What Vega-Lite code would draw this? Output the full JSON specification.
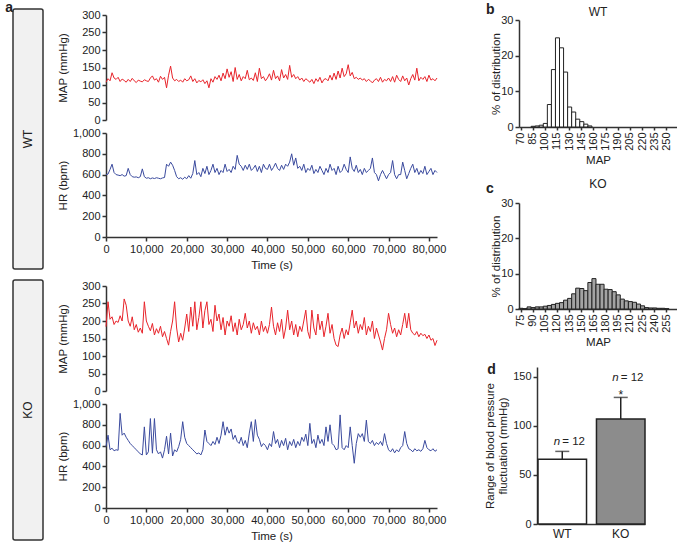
{
"$schema": "https://vega.github.io/schema/vega-lite/v6.json",
"padding": {"left": 5, "top": 0, "right": 0, "bottom": 0},
"background": "white",
"config": {
  "font": "Liberation Sans",
  "view": {"stroke": null},
  "axis": {"domainColor": "#333", "domainWidth": 1.5, "tickColor": "#333", "tickWidth": 1.5, "tickSize": 4, "labelFontSize": 11, "labelColor": "#222", "titleFontSize": 11.5, "titleFontWeight": "normal", "titleColor": "#222", "grid": false, "labelPadding": 2, "titlePadding": 4},
  "title": {"fontSize": 12, "fontWeight": "normal", "color": "#222"}
},
"datasets": {
"wt": [
{"t":0,"map":108,"hr":600},{"t":500,"map":118,"hr":605},{"t":1000,"map":112,"hr":650},{"t":1500,"map":135,"hr":700},{"t":2000,"map":120,"hr":620},{"t":2500,"map":116,"hr":600},{"t":3000,"map":122,"hr":595},{"t":3500,"map":110,"hr":590},{"t":4000,"map":117,"hr":600},{"t":4500,"map":113,"hr":585},
{"t":5000,"map":108,"hr":590},{"t":5500,"map":116,"hr":660},{"t":6000,"map":110,"hr":600},{"t":6500,"map":119,"hr":580},{"t":7000,"map":112,"hr":575},{"t":7500,"map":107,"hr":578},{"t":8000,"map":114,"hr":570},{"t":8500,"map":111,"hr":580},{"t":9000,"map":109,"hr":655},{"t":9500,"map":115,"hr":580},
{"t":10000,"map":112,"hr":565},{"t":10500,"map":110,"hr":570},{"t":11000,"map":120,"hr":560},{"t":11500,"map":126,"hr":568},{"t":12000,"map":114,"hr":562},{"t":12500,"map":118,"hr":570},{"t":13000,"map":108,"hr":565},{"t":13500,"map":125,"hr":560},{"t":14000,"map":116,"hr":568},{"t":14500,"map":122,"hr":572},
{"t":15000,"map":92,"hr":700},{"t":15500,"map":128,"hr":680},{"t":16000,"map":154,"hr":720},{"t":16500,"map":120,"hr":690},{"t":17000,"map":112,"hr":640},{"t":17500,"map":116,"hr":580},{"t":18000,"map":110,"hr":560},{"t":18500,"map":114,"hr":570},{"t":19000,"map":108,"hr":555},{"t":19500,"map":118,"hr":575},
{"t":20000,"map":112,"hr":560},{"t":20500,"map":115,"hr":590},{"t":21000,"map":126,"hr":565},{"t":21500,"map":110,"hr":610},{"t":22000,"map":118,"hr":735},{"t":22500,"map":106,"hr":600},{"t":23000,"map":113,"hr":620},{"t":23500,"map":109,"hr":580},{"t":24000,"map":115,"hr":660},{"t":24500,"map":104,"hr":610},
{"t":25000,"map":112,"hr":680},{"t":25500,"map":92,"hr":600},{"t":26000,"map":118,"hr":640},{"t":26500,"map":108,"hr":700},{"t":27000,"map":124,"hr":620},{"t":27500,"map":116,"hr":660},{"t":28000,"map":128,"hr":600},{"t":28500,"map":112,"hr":640},{"t":29000,"map":134,"hr":620},{"t":29500,"map":118,"hr":700},
{"t":30000,"map":146,"hr":630},{"t":30500,"map":122,"hr":650},{"t":31000,"map":138,"hr":620},{"t":31500,"map":110,"hr":680},{"t":32000,"map":150,"hr":650},{"t":32500,"map":116,"hr":785},{"t":33000,"map":130,"hr":700},{"t":33500,"map":112,"hr":680},{"t":34000,"map":124,"hr":640},{"t":34500,"map":118,"hr":690},
{"t":35000,"map":142,"hr":650},{"t":35500,"map":115,"hr":700},{"t":36000,"map":120,"hr":640},{"t":36500,"map":113,"hr":660},{"t":37000,"map":135,"hr":690},{"t":37500,"map":110,"hr":630},{"t":38000,"map":148,"hr":680},{"t":38500,"map":118,"hr":620},{"t":39000,"map":124,"hr":700},{"t":39500,"map":112,"hr":660},
{"t":40000,"map":120,"hr":650},{"t":40500,"map":132,"hr":700},{"t":41000,"map":114,"hr":640},{"t":41500,"map":142,"hr":670},{"t":42000,"map":118,"hr":710},{"t":42500,"map":126,"hr":660},{"t":43000,"map":112,"hr":640},{"t":43500,"map":144,"hr":690},{"t":44000,"map":120,"hr":650},{"t":44500,"map":130,"hr":700},
{"t":45000,"map":116,"hr":680},{"t":45500,"map":156,"hr":720},{"t":46000,"map":122,"hr":800},{"t":46500,"map":130,"hr":690},{"t":47000,"map":118,"hr":760},{"t":47500,"map":124,"hr":660},{"t":48000,"map":114,"hr":680},{"t":48500,"map":120,"hr":640},{"t":49000,"map":110,"hr":700},{"t":49500,"map":118,"hr":620},
{"t":50000,"map":113,"hr":660},{"t":50500,"map":108,"hr":640},{"t":51000,"map":116,"hr":690},{"t":51500,"map":104,"hr":610},{"t":52000,"map":118,"hr":650},{"t":52500,"map":110,"hr":620},{"t":53000,"map":122,"hr":680},{"t":53500,"map":106,"hr":640},{"t":54000,"map":116,"hr":600},{"t":54500,"map":118,"hr":660},
{"t":55000,"map":112,"hr":620},{"t":55500,"map":128,"hr":700},{"t":56000,"map":114,"hr":640},{"t":56500,"map":134,"hr":660},{"t":57000,"map":116,"hr":600},{"t":57500,"map":140,"hr":680},{"t":58000,"map":120,"hr":620},{"t":58500,"map":148,"hr":640},{"t":59000,"map":124,"hr":700},{"t":59500,"map":132,"hr":650},
{"t":60000,"map":158,"hr":620},{"t":60500,"map":126,"hr":770},{"t":61000,"map":136,"hr":660},{"t":61500,"map":118,"hr":630},{"t":62000,"map":122,"hr":690},{"t":62500,"map":116,"hr":620},{"t":63000,"map":120,"hr":650},{"t":63500,"map":114,"hr":600},{"t":64000,"map":118,"hr":660},{"t":64500,"map":110,"hr":620},
{"t":65000,"map":116,"hr":640},{"t":65500,"map":112,"hr":660},{"t":66000,"map":106,"hr":760},{"t":66500,"map":114,"hr":620},{"t":67000,"map":118,"hr":600},{"t":67500,"map":110,"hr":540},{"t":68000,"map":122,"hr":600},{"t":68500,"map":108,"hr":640},{"t":69000,"map":116,"hr":600},{"t":69500,"map":112,"hr":560},
{"t":70000,"map":120,"hr":600},{"t":70500,"map":110,"hr":620},{"t":71000,"map":124,"hr":735},{"t":71500,"map":108,"hr":600},{"t":72000,"map":128,"hr":560},{"t":72500,"map":116,"hr":600},{"t":73000,"map":110,"hr":600},{"t":73500,"map":126,"hr":720},{"t":74000,"map":112,"hr":640},{"t":74500,"map":120,"hr":560},
{"t":75000,"map":100,"hr":610},{"t":75500,"map":118,"hr":660},{"t":76000,"map":130,"hr":700},{"t":76500,"map":114,"hr":620},{"t":77000,"map":148,"hr":660},{"t":77500,"map":112,"hr":600},{"t":78000,"map":122,"hr":640},{"t":78500,"map":116,"hr":610},{"t":79000,"map":124,"hr":680},{"t":79500,"map":110,"hr":600},
{"t":80000,"map":128,"hr":630},{"t":80500,"map":114,"hr":660},{"t":81000,"map":118,"hr":600},{"t":81500,"map":112,"hr":640},{"t":82000,"map":120,"hr":620}
],
"ko": [
{"t":0,"map":184,"hr":590},{"t":500,"map":255,"hr":700},{"t":1000,"map":205,"hr":560},{"t":1500,"map":212,"hr":575},{"t":2000,"map":190,"hr":550},{"t":2500,"map":200,"hr":560},{"t":3000,"map":196,"hr":555},{"t":3500,"map":215,"hr":910},{"t":4000,"map":200,"hr":700},{"t":4500,"map":263,"hr":720},
{"t":5000,"map":245,"hr":680},{"t":5500,"map":200,"hr":650},{"t":6000,"map":185,"hr":620},{"t":6500,"map":212,"hr":600},{"t":7000,"map":175,"hr":580},{"t":7500,"map":190,"hr":560},{"t":8000,"map":168,"hr":540},{"t":8500,"map":180,"hr":520},{"t":9000,"map":165,"hr":510},{"t":9500,"map":255,"hr":780},
{"t":10000,"map":200,"hr":510},{"t":10500,"map":185,"hr":540},{"t":11000,"map":172,"hr":860},{"t":11500,"map":193,"hr":527},{"t":12000,"map":160,"hr":860},{"t":12500,"map":178,"hr":560},{"t":13000,"map":165,"hr":520},{"t":13500,"map":185,"hr":540},{"t":14000,"map":155,"hr":480},{"t":14500,"map":170,"hr":560},
{"t":15000,"map":150,"hr":690},{"t":15500,"map":131,"hr":520},{"t":16000,"map":170,"hr":720},{"t":16500,"map":200,"hr":500},{"t":17000,"map":255,"hr":560},{"t":17500,"map":180,"hr":540},{"t":18000,"map":140,"hr":590},{"t":18500,"map":165,"hr":660},{"t":19000,"map":145,"hr":830},{"t":19500,"map":180,"hr":680},
{"t":20000,"map":220,"hr":620},{"t":20500,"map":170,"hr":600},{"t":21000,"map":240,"hr":580},{"t":21500,"map":185,"hr":560},{"t":22000,"map":255,"hr":540},{"t":22500,"map":175,"hr":520},{"t":23000,"map":210,"hr":530},{"t":23500,"map":255,"hr":510},{"t":24000,"map":180,"hr":560},{"t":24500,"map":230,"hr":750},
{"t":25000,"map":255,"hr":640},{"t":25500,"map":190,"hr":620},{"t":26000,"map":205,"hr":600},{"t":26500,"map":170,"hr":640},{"t":27000,"map":245,"hr":610},{"t":27500,"map":200,"hr":680},{"t":28000,"map":220,"hr":620},{"t":28500,"map":175,"hr":700},{"t":29000,"map":210,"hr":830},{"t":29500,"map":160,"hr":700},
{"t":30000,"map":200,"hr":780},{"t":30500,"map":185,"hr":720},{"t":31000,"map":215,"hr":760},{"t":31500,"map":170,"hr":660},{"t":32000,"map":195,"hr":700},{"t":32500,"map":160,"hr":640},{"t":33000,"map":205,"hr":620},{"t":33500,"map":175,"hr":680},{"t":34000,"map":190,"hr":600},{"t":34500,"map":222,"hr":650},
{"t":35000,"map":180,"hr":580},{"t":35500,"map":200,"hr":720},{"t":36000,"map":165,"hr":830},{"t":36500,"map":195,"hr":640},{"t":37000,"map":175,"hr":850},{"t":37500,"map":185,"hr":700},{"t":38000,"map":160,"hr":660},{"t":38500,"map":200,"hr":590},{"t":39000,"map":170,"hr":620},{"t":39500,"map":185,"hr":600},
{"t":40000,"map":165,"hr":560},{"t":40500,"map":190,"hr":620},{"t":41000,"map":240,"hr":590},{"t":41500,"map":185,"hr":735},{"t":42000,"map":160,"hr":620},{"t":42500,"map":195,"hr":660},{"t":43000,"map":170,"hr":580},{"t":43500,"map":205,"hr":650},{"t":44000,"map":150,"hr":600},{"t":44500,"map":180,"hr":670},
{"t":45000,"map":231,"hr":560},{"t":45500,"map":175,"hr":640},{"t":46000,"map":200,"hr":600},{"t":46500,"map":160,"hr":660},{"t":47000,"map":190,"hr":580},{"t":47500,"map":155,"hr":640},{"t":48000,"map":185,"hr":600},{"t":48500,"map":170,"hr":680},{"t":49000,"map":200,"hr":640},{"t":49500,"map":231,"hr":710},
{"t":50000,"map":170,"hr":600},{"t":50500,"map":150,"hr":814},{"t":51000,"map":231,"hr":620},{"t":51500,"map":180,"hr":660},{"t":52000,"map":160,"hr":580},{"t":52500,"map":220,"hr":700},{"t":53000,"map":175,"hr":620},{"t":53500,"map":200,"hr":660},{"t":54000,"map":155,"hr":600},{"t":54500,"map":185,"hr":780},
{"t":55000,"map":222,"hr":640},{"t":55500,"map":165,"hr":800},{"t":56000,"map":190,"hr":620},{"t":56500,"map":150,"hr":600},{"t":57000,"map":131,"hr":560},{"t":57500,"map":127,"hr":570},{"t":58000,"map":160,"hr":895},{"t":58500,"map":180,"hr":580},{"t":59000,"map":150,"hr":560},{"t":59500,"map":175,"hr":600},
{"t":60000,"map":160,"hr":580},{"t":60500,"map":195,"hr":780},{"t":61000,"map":231,"hr":600},{"t":61500,"map":180,"hr":430},{"t":62000,"map":200,"hr":620},{"t":62500,"map":165,"hr":715},{"t":63000,"map":190,"hr":680},{"t":63500,"map":175,"hr":715},{"t":64000,"map":210,"hr":640},{"t":64500,"map":160,"hr":845},
{"t":65000,"map":185,"hr":640},{"t":65500,"map":170,"hr":620},{"t":66000,"map":200,"hr":650},{"t":66500,"map":150,"hr":600},{"t":67000,"map":180,"hr":630},{"t":67500,"map":160,"hr":610},{"t":68000,"map":140,"hr":640},{"t":68500,"map":117,"hr":600},{"t":69000,"map":150,"hr":715},{"t":69500,"map":175,"hr":620},
{"t":70000,"map":222,"hr":560},{"t":70500,"map":190,"hr":540},{"t":71000,"map":165,"hr":570},{"t":71500,"map":180,"hr":530},{"t":72000,"map":155,"hr":560},{"t":72500,"map":175,"hr":540},{"t":73000,"map":160,"hr":580},{"t":73500,"map":190,"hr":600},{"t":74000,"map":222,"hr":735},{"t":74500,"map":180,"hr":620},
{"t":75000,"map":222,"hr":570},{"t":75500,"map":175,"hr":560},{"t":76000,"map":165,"hr":540},{"t":76500,"map":160,"hr":570},{"t":77000,"map":170,"hr":550},{"t":77500,"map":155,"hr":560},{"t":78000,"map":165,"hr":545},{"t":78500,"map":158,"hr":570},{"t":79000,"map":162,"hr":650},{"t":79500,"map":150,"hr":580},
{"t":80000,"map":160,"hr":560},{"t":80500,"map":145,"hr":550},{"t":81000,"map":150,"hr":570},{"t":81500,"map":130,"hr":545},{"t":82000,"map":145,"hr":560}
],
"hwt": [
{"bin":85,"pct":0.2},{"bin":90,"pct":0.3},{"bin":95,"pct":0.5},{"bin":100,"pct":1.0},{"bin":105,"pct":6.3},{"bin":110,"pct":16.1},{"bin":115,"pct":25.0},{"bin":120,"pct":22.2},{"bin":125,"pct":15.4},{"bin":130,"pct":5.6},{"bin":135,"pct":4.2},{"bin":140,"pct":2.2},{"bin":145,"pct":1.5},{"bin":150,"pct":0.8},{"bin":155,"pct":0.3}
],
"hko": [
{"bin":75,"pct":0.2},{"bin":80,"pct":0.1},{"bin":85,"pct":0.6},{"bin":90,"pct":0.4},{"bin":95,"pct":0.6},{"bin":100,"pct":0.6},{"bin":105,"pct":0.8},{"bin":110,"pct":1.0},{"bin":115,"pct":1.3},{"bin":120,"pct":1.6},{"bin":125,"pct":1.8},{"bin":130,"pct":2.5},{"bin":135,"pct":3.0},{"bin":140,"pct":4.3},{"bin":145,"pct":5.9},{"bin":150,"pct":5.8},{"bin":155,"pct":5.2},{"bin":160,"pct":7.5},{"bin":165,"pct":8.6},{"bin":170,"pct":7.0},{"bin":175,"pct":7.0},{"bin":180,"pct":5.6},{"bin":185,"pct":5.5},{"bin":190,"pct":4.9},{"bin":195,"pct":4.0},{"bin":200,"pct":2.8},{"bin":205,"pct":2.3},{"bin":210,"pct":2.1},{"bin":215,"pct":1.9},{"bin":220,"pct":1.4},{"bin":225,"pct":0.9},{"bin":230,"pct":0.4},{"bin":235,"pct":0.3},{"bin":240,"pct":0.3},{"bin":245,"pct":0.2},{"bin":250,"pct":0.2},{"bin":255,"pct":0.1}
],
"rng": [
{"g":"WT","mean":66,"upper":74},{"g":"KO","mean":107,"upper":129}
]
},
"concat": [
{
 "vconcat": [
  {
   "title": {"text": "a", "anchor": "start", "frame": "bounds", "fontSize": 14, "fontWeight": "bold", "offset": -11, "dx": -7},
   "hconcat": [
    {"width": 30, "height": 260, "view": {"fill": "#f1f1f1", "stroke": "#333", "strokeWidth": 1.5, "cornerRadius": 2},
     "data": {"values": [{"g": "WT"}]}, "mark": {"type": "text", "angle": 270, "fontSize": 12, "color": "#222"},
     "encoding": {"text": {"field": "g"}}},
    {"vconcat": [
      {"width": 1, "height": 1, "data": {"values": [{}]}, "mark": {"type": "text"}, "encoding": {"text": {"value": ""}}},
      {"vconcat": [
        {"width": 331, "height": 105, "data": {"name": "wt"},
         "mark": {"type": "line", "color": "#e8242b", "strokeWidth": 1},
         "encoding": {
          "x": {"field": "t", "type": "quantitative", "scale": {"domain": [0, 82000], "nice": false}, "axis": null},
          "y": {"field": "map", "type": "quantitative", "scale": {"domain": [0, 300]}, "axis": {"title": "MAP (mmHg)", "values": [0,50,100,150,200,250,300], "titleX": -38}}
         }},
        {"width": 331, "height": 104, "data": {"name": "wt"},
         "mark": {"type": "line", "color": "#3a4a9e", "strokeWidth": 1},
         "encoding": {
          "x": {"field": "t", "type": "quantitative", "scale": {"domain": [0, 82000], "nice": false}, "axis": {"title": "Time (s)", "values": [0,10000,20000,30000,40000,50000,60000,70000,80000], "format": ",.0f", "labelFlush": false, "titlePadding": 5}},
          "y": {"field": "hr", "type": "quantitative", "scale": {"domain": [0, 1000]}, "axis": {"title": "HR (bpm)", "values": [0,200,400,600,800,1000], "format": ",.0f", "titleX": -38}}
         }}
       ], "spacing": 13, "bounds": "flush"}
     ], "spacing": 5, "bounds": "flush"}
   ], "spacing": 12
  },
  {
   "hconcat": [
    {"width": 30, "height": 260, "view": {"fill": "#f1f1f1", "stroke": "#333", "strokeWidth": 1.5, "cornerRadius": 2},
     "data": {"values": [{"g": "KO"}]}, "mark": {"type": "text", "angle": 270, "fontSize": 12, "color": "#222"},
     "encoding": {"text": {"field": "g"}}},
    {"vconcat": [
      {"width": 1, "height": 1, "data": {"values": [{}]}, "mark": {"type": "text"}, "encoding": {"text": {"value": ""}}},
      {"vconcat": [
        {"width": 331, "height": 105, "data": {"name": "ko"},
         "mark": {"type": "line", "color": "#e8242b", "strokeWidth": 1},
         "encoding": {
          "x": {"field": "t", "type": "quantitative", "scale": {"domain": [0, 82000], "nice": false}, "axis": null},
          "y": {"field": "map", "type": "quantitative", "scale": {"domain": [0, 300]}, "axis": {"title": "MAP (mmHg)", "values": [0,50,100,150,200,250,300], "titleX": -38}}
         }},
        {"width": 331, "height": 104, "data": {"name": "ko"},
         "mark": {"type": "line", "color": "#3a4a9e", "strokeWidth": 1},
         "encoding": {
          "x": {"field": "t", "type": "quantitative", "scale": {"domain": [0, 82000], "nice": false}, "axis": {"title": "Time (s)", "values": [0,10000,20000,30000,40000,50000,60000,70000,80000], "format": ",.0f", "labelFlush": false, "titlePadding": 5}},
          "y": {"field": "hr", "type": "quantitative", "scale": {"domain": [0, 1000]}, "axis": {"title": "HR (bpm)", "values": [0,200,400,600,800,1000], "format": ",.0f", "titleX": -38}}
         }}
       ], "spacing": 13, "bounds": "flush"}
     ], "spacing": 5, "bounds": "flush"}
   ], "spacing": 12
  }
 ],
 "spacing": 3
},
{
 "vconcat": [
  {"width": 1, "height": 1, "data": {"values": [{}]}, "mark": {"type": "text"}, "encoding": {"text": {"value": ""}}},
  {
   "concat": [
    {
     "concat": [
      {
       "title": {"text": "b", "anchor": "start", "frame": "bounds", "fontSize": 14, "fontWeight": "bold", "offset": -11, "dx": -4},
       "vconcat": [
        {"title": {"text": "WT", "offset": -5}, "width": 158, "height": 107, "data": {"name": "hwt"},
         "mark": {"type": "bar", "fill": "white", "stroke": "#222", "strokeWidth": 1},
         "encoding": {
          "x": {"field": "bin", "type": "ordinal", "scale": {"domain": [70,75,80,85,90,95,100,105,110,115,120,125,130,135,140,145,150,155,160,165,170,175,180,185,190,195,200,205,210,215,220,225,230,235,240,245,250,255,260], "paddingInner": 0, "paddingOuter": 0}, "axis": {"values": [70,85,100,115,130,145,160,175,190,205,220,235,250], "labelAngle": -90, "title": "MAP", "tickSize": 3}},
          "y": {"field": "pct", "type": "quantitative", "scale": {"domain": [0, 30]}, "axis": {"values": [0,10,20,30], "title": "% of distribution", "titleX": -18}}
         }}
       ]
      },
      {
       "title": {"text": "c", "anchor": "start", "frame": "bounds", "fontSize": 14, "fontWeight": "bold", "offset": -18, "dx": -4},
       "vconcat": [
        {"title": {"text": "KO", "offset": 6}, "width": 158, "height": 106, "data": {"name": "hko"},
         "mark": {"type": "bar", "fill": "#a3a3a3", "stroke": "#222", "strokeWidth": 1},
         "encoding": {
          "x": {"field": "bin", "type": "ordinal", "scale": {"domain": [75,80,85,90,95,100,105,110,115,120,125,130,135,140,145,150,155,160,165,170,175,180,185,190,195,200,205,210,215,220,225,230,235,240,245,250,255,260,265], "paddingInner": 0, "paddingOuter": 0}, "axis": {"values": [75,90,105,120,135,150,165,180,195,210,225,240,255], "labelAngle": -90, "title": "MAP", "tickSize": 3}},
          "y": {"field": "pct", "type": "quantitative", "scale": {"domain": [0, 30]}, "axis": {"values": [0,10,20,30], "title": "% of distribution", "titleX": -18}}
         }}
       ]
      }
     ],
     "columns": 1, "align": "none", "spacing": 12
    },
    {
     "hconcat": [
      {"width": 1, "height": 157, "data": {"values": [{}]}, "mark": {"type": "text"}, "encoding": {"text": {"value": ""}}},
      {
       "title": {"text": "d", "anchor": "start", "frame": "bounds", "fontSize": 14, "fontWeight": "bold", "offset": -10, "dx": 3},
       "width": 118, "height": 157, "data": {"name": "rng"},
       "encoding": {
        "x": {"field": "g", "type": "nominal", "sort": ["WT", "KO"], "scale": {"range": [1, 108], "paddingInner": 0.17, "paddingOuter": 0}, "axis": {"title": null, "labelAngle": 0, "ticks": false, "labelFontSize": 12, "labelPadding": 4}}
       },
       "layer": [
        {"mark": {"type": "rule", "color": "#222", "strokeWidth": 1.5},
         "encoding": {"y": {"field": "mean", "type": "quantitative"}, "y2": {"field": "upper"}}},
        {"mark": {"type": "tick", "color": "#222", "thickness": 1.5, "size": 14},
         "encoding": {"y": {"field": "upper", "type": "quantitative"}}},
        {"mark": {"type": "bar", "stroke": "#222", "strokeWidth": 1.5},
         "encoding": {
          "y": {"field": "mean", "type": "quantitative", "scale": {"domain": [0, 150]}, "axis": {"values": [0,50,100,150], "title": ["Range of blood pressure", "fluctuation (mmHg)"]}},
          "color": {"field": "g", "type": "nominal", "scale": {"domain": ["WT", "KO"], "range": ["white", "#8c8c8c"]}, "legend": null}
         }},
        {"transform": [{"filter": "datum.g === 'WT'"}],
         "mark": {"type": "text", "text": "n", "fontStyle": "italic", "fontSize": 11.5, "align": "right", "baseline": "alphabetic", "dx": -2, "dy": -6, "color": "#222"},
         "encoding": {"y": {"field": "upper", "type": "quantitative"}}},
        {"transform": [{"filter": "datum.g === 'WT'"}],
         "mark": {"type": "text", "text": "= 12", "fontSize": 11.5, "align": "left", "baseline": "alphabetic", "dx": 0, "dy": -6, "color": "#222"},
         "encoding": {"y": {"field": "upper", "type": "quantitative"}}},
        {"transform": [{"filter": "datum.g === 'KO'"}],
         "mark": {"type": "text", "text": "n", "fontStyle": "italic", "fontSize": 11.5, "align": "right", "baseline": "alphabetic", "dx": -2, "dy": -16, "color": "#222"},
         "encoding": {"y": {"field": "upper", "type": "quantitative"}}},
        {"transform": [{"filter": "datum.g === 'KO'"}],
         "mark": {"type": "text", "text": "= 12", "fontSize": 11.5, "align": "left", "baseline": "alphabetic", "dx": 0, "dy": -16, "color": "#222"},
         "encoding": {"y": {"field": "upper", "type": "quantitative"}}},
        {"transform": [{"filter": "datum.g === 'KO'"}],
         "mark": {"type": "text", "text": "*", "fontSize": 12, "align": "center", "baseline": "alphabetic", "dy": 2, "color": "#222"},
         "encoding": {"y": {"field": "upper", "type": "quantitative"}}}
       ]
      }
     ],
     "spacing": 17, "bounds": "flush"
    }
   ],
   "columns": 1, "align": "none", "spacing": 15
  }
 ],
 "spacing": 10, "bounds": "flush"
}
],
"columns": 2, "align": "none", "spacing": 38
}
